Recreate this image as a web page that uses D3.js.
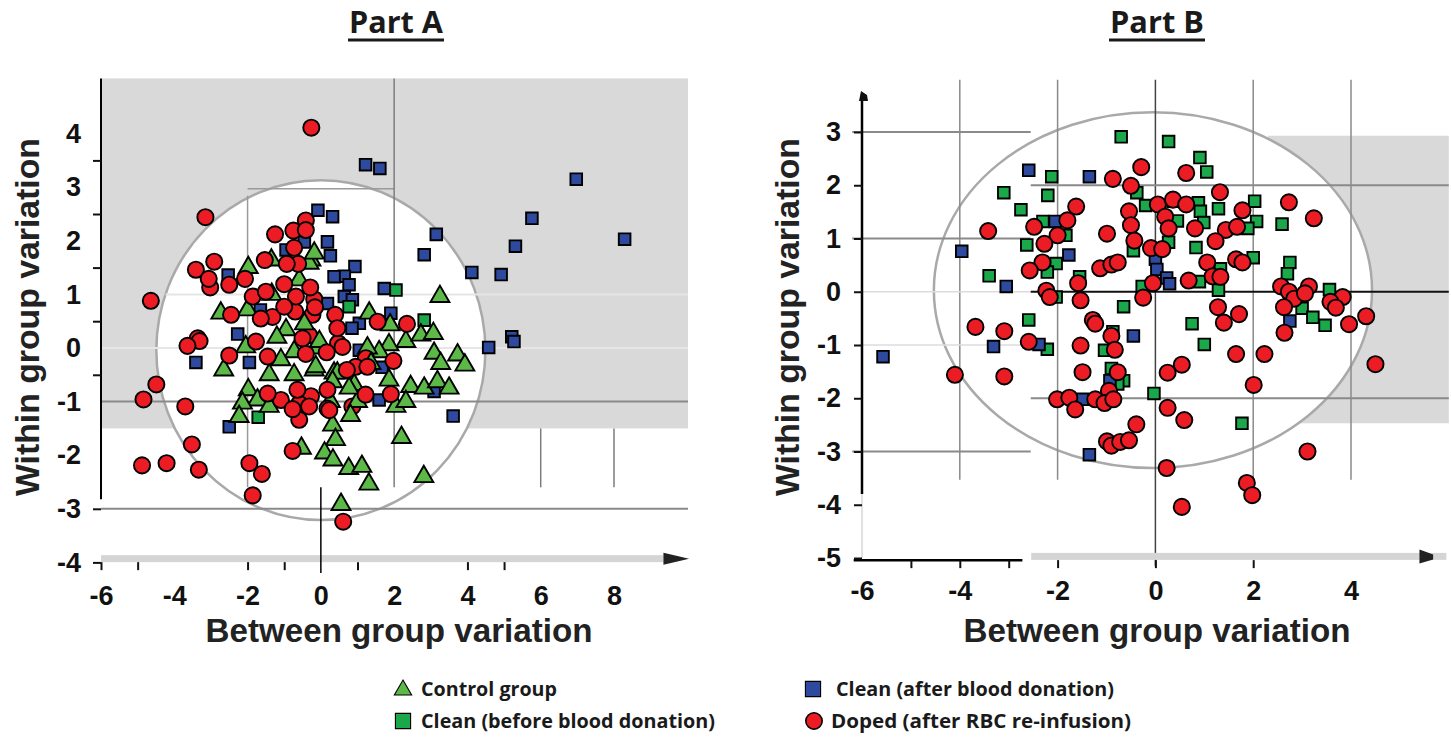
<!DOCTYPE html>
<html>
<head>
<meta charset="utf-8">
<script src="https://cdn.jsdelivr.net/npm/d3@7"></script>
<style>
  html, body { margin: 0; padding: 0; background: #fff; }
  svg { display: block; }
</style>
</head>
<body>
<svg id="chart" width="1451" height="738"></svg>
<script>
// ---- Part A: [between group, within group] scores ----
const controlA = [
  [3.25,0.96],[-1.98,1.50],[-1.35,1.64],[-0.27,1.64],[-0.32,1.58],[-0.18,1.77],[-1.34,1.00],[-0.59,1.27],
  [-2.73,0.65],[-2.00,0.71],[-0.95,0.34],[-2.05,0.02],[-0.73,-0.07],[-1.09,-0.22],[-2.65,-0.41],[-1.41,-0.50],
  [-0.73,-0.50],[-0.18,-0.41],[-0.14,0.00],[-1.98,-0.78],[-1.73,-0.97],[-2.14,-1.03],[-1.41,-1.09],[-2.23,-1.28],
  [0.32,-1.44],[0.36,-0.47],[1.32,0.65],[1.89,0.43],[2.32,0.12],[2.73,0.24],[3.07,0.27],[1.86,0.06],
  [1.59,-0.07],[1.27,0.00],[3.09,-0.10],[3.73,-0.13],[3.93,-0.32],[3.27,-0.29],[1.86,-0.60],[2.45,-0.72],
  [2.82,-0.75],[3.18,-0.63],[3.50,-0.75],[0.91,-0.69],[0.45,-0.47],[1.00,-1.00],[2.05,-1.09],[2.32,-1.00],
  [-0.14,-0.35],[0.32,-0.63],[0.77,-0.75],[0.26,-1.00],[0.81,-1.26],[0.40,-1.71],[2.20,-1.67],[-0.53,-1.87],
  [0.10,-1.96],[0.33,-2.09],[0.76,-2.25],[1.12,-2.21],[1.31,-2.54],[2.81,-2.40],[0.55,-2.92],[-0.04,0.12],
  [1.37,-0.29],[-0.45,0.45],[-1.20,0.20]
];
const cleanBeforeA = [[2.05,1.08],[2.82,0.52],[0.77,0.77],[-1.71,-1.29]];
const cleanAfterA = [
  [1.22,3.42],[1.61,3.35],[6.97,3.15],[5.76,2.42],[8.29,2.03],[3.15,2.12],[2.82,1.74],[5.31,1.90],
  [4.12,1.41],[4.92,1.37],[5.21,0.21],[5.27,0.12],[4.58,0.01],[3.61,-1.27],[-0.08,2.57],[0.32,2.45],
  [0.18,1.98],[0.26,1.72],[0.93,1.52],[0.64,1.34],[0.77,1.18],[0.64,0.96],[0.86,0.90],[1.73,1.11],
  [1.91,0.65],[1.05,0.46],[0.85,0.37],[1.05,-0.04],[1.59,-0.97],[3.09,-0.81],[-2.53,1.36],[-2.27,0.26],
  [-3.41,-0.27],[-1.95,-0.27],[-2.50,-1.47],[-0.45,1.98],[-0.95,1.83],[-1.65,0.71],[0.18,0.83],[1.67,-0.36],
  [0.36,1.33]
];
const dopedA = [
  [-0.26,4.11],[-3.15,2.44],[-4.64,0.88],[-3.41,1.46],[-2.91,1.61],[-3.06,1.29],[-3.02,1.13],[-2.50,1.18],
  [-2.07,1.29],[-1.25,2.12],[-1.53,1.64],[-0.75,2.19],[-0.41,2.38],[-0.41,2.20],[-0.73,1.87],[-0.93,1.57],
  [-0.62,1.57],[-1.86,0.96],[-1.00,1.19],[-0.29,1.13],[-0.18,0.91],[-0.16,0.76],[-0.23,0.62],[-0.68,0.96],
  [-0.70,0.68],[-1.50,1.05],[-2.45,0.62],[-1.64,0.55],[-1.32,0.58],[-1.00,0.77],[0.39,0.62],[0.45,0.37],
  [-3.36,0.18],[-3.64,0.04],[-3.31,0.13],[-2.50,-0.14],[-1.77,0.12],[-1.45,-0.16],[-0.41,-0.11],[0.16,-0.08],
  [-0.32,0.24],[-0.50,0.18],[-3.70,-1.09],[-1.45,-0.85],[-1.09,-0.97],[-0.64,-0.78],[-0.27,-0.90],[0.18,-0.78],
  [-0.59,-1.04],[-0.32,-1.09],[-0.59,-1.34],[0.18,-1.13],[1.55,0.49],[2.35,0.45],[0.47,0.09],[0.59,0.02],
  [1.23,-0.19],[1.27,-0.35],[0.95,-0.35],[0.71,-0.41],[1.98,-0.24],[1.91,-0.86],[0.86,-1.09],[0.23,-1.16],
  [-4.49,-0.68],[-4.84,-0.96],[-3.52,-1.80],[-4.88,-2.19],[-4.21,-2.15],[-3.33,-2.27],[-1.95,-2.15],[-1.61,-2.35],
  [-1.86,-2.75],[-0.77,-1.92],[0.61,-3.24],[1.22,-0.87],[-0.77,-1.14]
];

// ---- Part B ----
const cleanBeforeB = [
  [-0.70,2.91],[0.27,2.82],[0.91,2.52],[1.05,2.25],[-2.12,2.16],[-3.10,1.86],[-2.20,1.81],[-0.38,1.86],
  [-0.20,1.62],[0.36,1.70],[0.88,1.67],[0.92,1.51],[1.29,1.56],[2.03,1.70],[-2.75,1.54],[-2.30,1.32],
  [0.45,1.33],[0.99,1.30],[2.07,1.32],[2.59,1.27],[1.89,1.19],[-1.83,1.06],[-2.63,0.88],[0.27,0.93],
  [0.83,0.83],[-0.45,0.77],[-2.03,0.53],[-2.21,0.37],[-3.40,0.30],[2.00,0.64],[2.75,0.55],[2.70,0.34],
  [1.33,0.43],[-1.55,0.28],[0.90,0.19],[1.29,0.03],[-0.27,0.10],[-2.03,-0.10],[3.56,0.04],[-0.65,-0.28],
  [-2.59,-0.53],[3.00,-0.31],[3.22,-0.48],[3.47,-0.63],[0.75,-0.60],[-0.87,-0.75],[1.00,-0.99],[-2.21,-1.08],
  [-1.04,-1.10],[-0.90,-1.44],[-0.65,-1.67],[-0.77,-1.73],[-0.03,-1.91],[1.77,-2.47]
];
const cleanAfterB = [
  [-2.59,2.28],[-1.35,2.16],[-3.96,0.76],[-1.77,0.69],[-3.05,0.10],[0.00,0.61],[0.03,0.42],[0.23,0.26],
  [0.29,0.15],[2.75,-0.55],[-0.45,-0.83],[-3.31,-1.03],[-2.38,-0.99],[-5.57,-1.22],[-0.93,-1.67],[-1.49,-2.02],
  [-1.35,-3.06],[-2.05,1.32]
];
const dopedB = [
  [-0.29,2.34],[0.63,2.23],[-0.87,2.12],[-0.50,1.99],[1.32,1.87],[-1.62,1.60],[0.05,1.64],[0.36,1.73],
  [0.63,1.64],[1.78,1.53],[2.73,1.68],[3.24,1.38],[-0.54,1.51],[0.20,1.41],[-0.50,1.25],[0.27,1.19],
  [0.81,1.19],[1.44,1.16],[1.67,1.22],[1.23,0.95],[-1.80,1.34],[-2.48,1.22],[-2.00,1.06],[-2.27,0.90],
  [-3.42,1.14],[-0.99,1.09],[-0.43,0.96],[-0.09,0.82],[0.14,0.80],[-2.31,0.55],[-2.57,0.40],[-1.13,0.44],
  [-0.90,0.51],[-0.77,0.55],[1.06,0.55],[1.65,0.61],[1.78,0.55],[-2.23,0.02],[-2.16,-0.10],[-1.58,0.16],
  [-1.53,-0.16],[-0.05,0.16],[-0.25,-0.11],[0.68,0.21],[1.17,0.29],[1.33,0.28],[2.57,0.10],[2.73,0.00],
  [2.84,-0.13],[3.14,0.10],[3.06,-0.03],[3.83,-0.10],[3.58,-0.19],[3.69,-0.30],[1.28,-0.29],[1.40,-0.58],
  [1.71,-0.42],[2.63,-0.29],[2.64,-0.77],[3.96,-0.61],[4.31,-0.46],[4.50,-1.36],[-1.28,-0.53],[-1.23,-0.60],
  [-3.68,-0.66],[-3.09,-0.74],[-2.59,-0.94],[-1.53,-1.01],[-0.90,-0.83],[-0.83,-1.09],[1.65,-1.17],[2.23,-1.17],
  [-4.10,-1.56],[-3.09,-1.59],[-1.49,-1.51],[-0.77,-1.51],[0.25,-1.52],[0.54,-1.37],[2.01,-1.75],[-0.95,-1.86],
  [-2.01,-2.02],[-1.76,-1.99],[-1.64,-2.21],[-1.23,-2.02],[-1.04,-2.09],[-0.86,-2.02],[0.25,-2.18],[0.59,-2.41],
  [-0.39,-2.49],[-0.99,-2.81],[-0.90,-2.89],[-0.72,-2.82],[-0.54,-2.79],[3.11,-3.00],[0.23,-3.31],[1.87,-3.59],
  [1.98,-3.82],[0.54,-4.04]
];

// ---- tick labels and legend ----
const xTickLabelsA = [-6, -4, -2, 0, 2, 4, 6, 8];
const yTickLabelsA = [4, 3, 2, 1, 0, -1, -2, -3, -4];
const xTickLabelsB = [-6, -4, -2, 0, 2, 4];
const yTickLabelsB = [3, 2, 1, 0, -1, -2, -3, -4, -5];
const legendLabels = ["Control group", "Clean (before blood donation)", "Clean (after blood donation)", "Doped (after RBC re-infusion)"];

// ---- drawing ----
const COLORS = { control: "#5cb947", before: "#1aa84b", after: "#2e4a9e", doped: "#ec1c24" };
const TICK_FONT = "'Liberation Sans', Arial, sans-serif";
const plainNumber = d => String(d);   // keeps the ASCII hyphen for negatives
const svg = d3.select("#chart");

const xA = d3.scaleLinear().domain([-6, 8]).range([101, 614]);
const yA = d3.scaleLinear().domain([-4, 4]).range([562.4, 133.6]);
const xB = d3.scaleLinear().domain([-6, 4]).range([862, 1351]);
const yB = d3.scaleLinear().domain([-5, 3]).range([558, 132]);

function seg(g, x, y, x1, y1, x2, y2, color, w) {
  g.append("line")
    .attr("x1", x(x1)).attr("y1", y(y1)).attr("x2", x(x2)).attr("y2", y(y2))
    .attr("stroke", color).attr("stroke-width", w);
}

const tri = d3.symbol().type(d3.symbolTriangle).size(155);
const sqr = d3.symbol().type(d3.symbolSquare).size(135);
const dot = d3.symbol().type(d3.symbolCircle).size(205);

function drawMarks(g, data, kind, x, y) {
  const sel = g.append("g").selectAll("path").data(data).join("path")
    .attr("transform", d => `translate(${x(d[0])},${y(d[1])})`)
    .attr("stroke", "#000").attr("stroke-width", 1.9);
  if (kind === "control") sel.attr("d", tri()).attr("fill", COLORS.control);
  if (kind === "before") sel.attr("d", sqr()).attr("fill", COLORS.before);
  if (kind === "after") sel.attr("d", sqr()).attr("fill", COLORS.after);
  if (kind === "doped") sel.attr("d", dot()).attr("fill", COLORS.doped);
}

function styleAxis(g, fontSize) {
  g.select(".domain").remove();
  g.selectAll(".tick line").attr("stroke", "#111").attr("stroke-width", 2);
  g.selectAll(".tick text")
    .attr("fill", "#111")
    .style("font-family", TICK_FONT)
    .style("font-weight", "bold")
    .style("font-size", fontSize + "px");
}

function title(cx, label) {
  svg.append("text").attr("x", cx).attr("y", 33)
    .attr("text-anchor", "middle")
    .style("font-family", "'Open Sans', sans-serif").style("font-weight", 700)
    .style("font-size", "31px").attr("fill", "#1a1a1a")
    .attr("textLength", 94).attr("lengthAdjust", "spacingAndGlyphs")
    .text(label);
  svg.append("line").attr("x1", cx - 48).attr("x2", cx + 48).attr("y1", 40).attr("y2", 40)
    .attr("stroke", "#1a1a1a").attr("stroke-width", 3);
}

function axisTitles(cxY, cyY, cxX, label1, label2) {
  svg.append("text")
    .attr("transform", `translate(${cxY},${cyY}) rotate(-90)`)
    .attr("text-anchor", "middle")
    .style("font-family", TICK_FONT).style("font-weight", "bold").style("font-size", "34px")
    .attr("fill", "#222")
    .attr("textLength", 358).attr("lengthAdjust", "spacingAndGlyphs")
    .text(label1);
  svg.append("text")
    .attr("x", cxX).attr("y", 642)
    .attr("text-anchor", "middle")
    .style("font-family", TICK_FONT).style("font-weight", "bold").style("font-size", "34px")
    .attr("fill", "#222")
    .attr("textLength", 387).attr("lengthAdjust", "spacingAndGlyphs")
    .text(label2);
}

// ================= Part A =================
const gA = svg.append("g");
gA.append("rect")
  .attr("x", xA(-6) + 1).attr("y", yA(5.03))
  .attr("width", xA(10.02) - xA(-6) - 1).attr("height", yA(-1.5) - yA(5.03))
  .attr("fill", "#d9d9d9");
gA.append("ellipse")
  .attr("cx", xA(0)).attr("cy", yA(-0.04))
  .attr("rx", xA(4.49) - xA(0)).attr("ry", yA(0) - yA(3.17))
  .attr("fill", "#fff").attr("stroke", "#a9a9a9").attr("stroke-width", 2.5);

seg(gA, xA, yA, -4.24, 1, 10.02, 1, "#e6e6e6", 2);
seg(gA, xA, yA, -6, 0, 10.02, 0, "#e6e6e6", 2);
seg(gA, xA, yA, -2, 2.97, 2, 2.97, "#9a9a9a", 1.5);
seg(gA, xA, yA, -2, 2.84, -2, -2.6, "#9a9a9a", 1.5);
seg(gA, xA, yA, 2, 5.03, 2, -2.6, "#7d7d7d", 1.5);
seg(gA, xA, yA, 6, -1.5, 6, -2.6, "#7d7d7d", 1.5);
seg(gA, xA, yA, 8, -1.5, 8, -2.6, "#7d7d7d", 1.5);
seg(gA, xA, yA, -6, -1, 10.02, -1, "#8a8a8a", 2);
seg(gA, xA, yA, -6, -3, 10.02, -3, "#8a8a8a", 2);
seg(gA, xA, yA, -6, 5.03, -6, -2.82, "#000", 2);

// horizontal axis bar with arrow
gA.append("rect")
  .attr("x", xA(-6)).attr("y", yA(-3.93) - 3.5)
  .attr("width", xA(9.35) - xA(-6)).attr("height", 7)
  .attr("fill", "#d5d5d5");
gA.append("path")
  .attr("d", `M${xA(9.35)},${yA(-3.93) - 6}L${xA(10.05)},${yA(-3.93)}L${xA(9.35)},${yA(-3.93) + 6}Z`)
  .attr("fill", "#222");
seg(gA, xA, yA, 0, -2.6, 0, -4.2, "#000", 1.5);

const tickMarksXA = gA.append("g").attr("transform", `translate(0,${yA(-3.93) + 3.5})`)
  .call(d3.axisBottom(xA).tickValues([-6, -5, -2, -1, 1, 4, 5]).tickSize(8).tickFormat(""));
styleAxis(tickMarksXA, 26);
const tickMarksYA = gA.append("g").attr("transform", `translate(${xA(-6)},0)`)
  .call(d3.axisLeft(yA).tickValues([3.5, 2.5, 1.5, 0.5, -0.5, -3, -4]).tickSize(8).tickFormat(""));
styleAxis(tickMarksYA, 26);
const labelsXA = gA.append("g").attr("transform", `translate(0,${yA(-3.93)})`)
  .call(d3.axisBottom(xA).tickValues(xTickLabelsA).tickSize(0).tickPadding(27).tickFormat(plainNumber));
styleAxis(labelsXA, 27);
const labelsYA = gA.append("g").attr("transform", `translate(${xA(-6) + 2},0)`)
  .call(d3.axisLeft(yA).tickValues(yTickLabelsA).tickSize(0).tickPadding(22).tickFormat(plainNumber));
styleAxis(labelsYA, 27);

// points: blue first, then greens interleaved with red
drawMarks(gA, cleanAfterA, "after", xA, yA);
drawMarks(gA, cleanBeforeA, "before", xA, yA);
const half = Math.ceil(controlA.length / 2);
drawMarks(gA, controlA.slice(0, half), "control", xA, yA);
drawMarks(gA, dopedA.filter((d, i) => i % 2 === 0), "doped", xA, yA);
drawMarks(gA, controlA.slice(half), "control", xA, yA);
drawMarks(gA, dopedA.filter((d, i) => i % 2 === 1), "doped", xA, yA);

// ================= Part B =================
const gB = svg.append("g");
gB.append("rect")
  .attr("x", xB(2.3)).attr("y", yB(2.93))
  .attr("width", xB(6.0) - xB(2.3)).attr("height", yB(-2.47) - yB(2.93))
  .attr("fill", "#d9d9d9");
gB.append("ellipse")
  .attr("cx", xB(-0.05)).attr("cy", yB(0.03))
  .attr("rx", xB(4.43) - xB(-0.05)).attr("ry", yB(0) - yB(3.34))
  .attr("fill", "#fff").attr("stroke", "#a9a9a9").attr("stroke-width", 2.5);

[-4, -2, 2, 4].forEach(v => seg(gB, xB, yB, v, 3.98, v, -3.53, "#8a8a8a", 1.5));
seg(gB, xB, yB, 0, 3.98, 0, -5.15, "#444", 1.5);
[3, 1, -3].forEach(v => seg(gB, xB, yB, -6.2, v, -2.55, v, "#8a8a8a", 2));
seg(gB, xB, yB, -6, -1, -2.55, -1, "#dcdcdc", 1.5);
seg(gB, xB, yB, -6, 0, -2.55, 0, "#dcdcdc", 1.5);
[2, -2].forEach(v => seg(gB, xB, yB, -2.55, v, 6.0, v, "#8a8a8a", 2));
seg(gB, xB, yB, -2.55, 0, 6.0, 0, "#111", 2);

// vertical axis with small arrow tip
seg(gB, xB, yB, -6, 3.62, -6, -3.8, "#000", 2.5);
seg(gB, xB, yB, -6, -3.8, -6, -5, "#c4c4c4", 1);
gB.append("path")
  .attr("d", `M${xB(-6) - 3},${yB(3.58)}L${xB(-6) + 6},${yB(3.58)}L${xB(-6) + 5},${yB(3.58) - 6}L${xB(-6) - 1},${yB(3.58) - 10}Z`)
  .attr("fill", "#111");

// horizontal axis: black segment on the left, grey bar with arrow on the right
seg(gB, xB, yB, -6.17, -5.04, -2.72, -5.04, "#000", 2.5);
gB.append("rect")
  .attr("x", xB(-2.54)).attr("y", yB(-4.97) - 3.5)
  .attr("width", xB(5.95) - xB(-2.54)).attr("height", 7)
  .attr("fill", "#d5d5d5");
gB.append("path")
  .attr("d", `M${xB(5.4)},${yB(-4.97) - 7}L${xB(5.68)},${yB(-4.97) - 2}L${xB(5.68)},${yB(-4.97) + 3}L${xB(5.4)},${yB(-4.97) + 7}Z`)
  .attr("fill", "#222");

const tickMarksXB = gB.append("g").attr("transform", `translate(0,${yB(-5.04)})`)
  .call(d3.axisBottom(xB).tickValues([-5, -4, -3, -2, 0, 2]).tickSize(8).tickFormat(""));
styleAxis(tickMarksXB, 26);
const tickMarksYB = gB.append("g").attr("transform", `translate(${xB(-6)},0)`)
  .call(d3.axisLeft(yB).tickValues(yTickLabelsB).tickSize(8).tickFormat(""));
styleAxis(tickMarksYB, 26);
const labelsXB = gB.append("g").attr("transform", `translate(0,${yB(-5)})`)
  .call(d3.axisBottom(xB).tickValues(xTickLabelsB).tickSize(0).tickPadding(23).tickFormat(plainNumber));
styleAxis(labelsXB, 27);
const labelsYB = gB.append("g").attr("transform", `translate(${xB(-6)},0)`)
  .call(d3.axisLeft(yB).tickValues(yTickLabelsB).tickSize(0).tickPadding(21).tickFormat(plainNumber));
styleAxis(labelsYB, 27);

drawMarks(gB, cleanBeforeB, "before", xB, yB);
drawMarks(gB, cleanAfterB, "after", xB, yB);
drawMarks(gB, dopedB, "doped", xB, yB);

// ================= titles =================
title(396, "Part A");
title(1157, "Part B");
axisTitles(39, 317, 399, "Within group variation", "Between group variation");
axisTitles(799, 317, 1157, "Within group variation", "Between group variation");

// ================= legend =================
const legend = svg.append("g");
const legendRows = [
  { kind: "control", x: 403, y: 689, tx: 421, w: 136 },
  { kind: "before", x: 403, y: 721, tx: 421, w: 294 },
  { kind: "after", x: 813, y: 689, tx: 836, w: 278 },
  { kind: "doped", x: 814, y: 721, tx: 831, w: 300 }
];
legendRows.forEach((r, i) => {
  let shape;
  if (r.kind === "control") shape = d3.symbol().type(d3.symbolTriangle).size(130)();
  else if (r.kind === "doped") shape = d3.symbol().type(d3.symbolCircle).size(210)();
  else shape = d3.symbol().type(d3.symbolSquare).size(230)();
  legend.append("path").attr("d", shape)
    .attr("transform", `translate(${r.x},${r.y + (r.kind === "control" ? 1 : 0)})`)
    .attr("fill", COLORS[r.kind]).attr("stroke", "#000").attr("stroke-width", r.kind === "doped" ? 1.6 : 1.1);
  legend.append("text")
    .attr("x", r.tx).attr("y", r.y + 7)
    .style("font-family", "'Open Sans', sans-serif").style("font-weight", 700).style("font-size", "20px")
    .attr("fill", "#1a1a1a")
    .attr("textLength", r.w).attr("lengthAdjust", "spacingAndGlyphs")
    .text(legendLabels[i]);
});
</script>
</body>
</html>
